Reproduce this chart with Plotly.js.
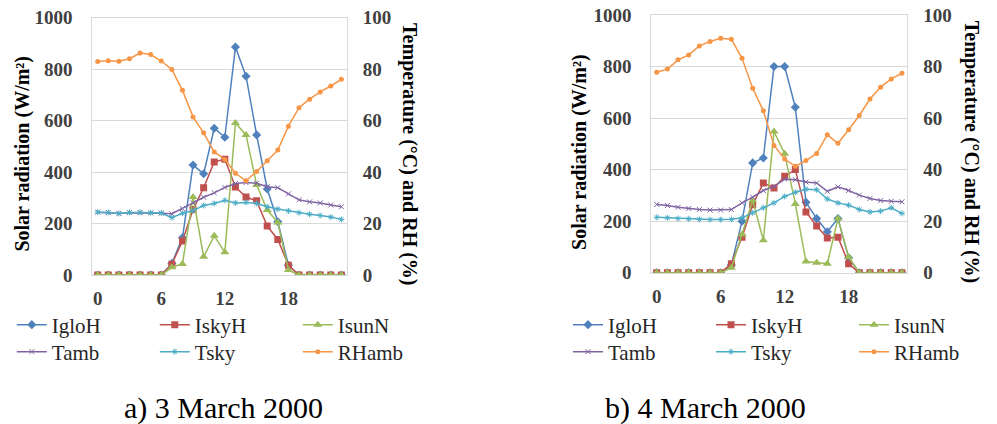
<!DOCTYPE html>
<html><head><meta charset="utf-8">
<script src="https://cdn.plot.ly/plotly-3.0.1.min.js"></script>
<style>html,body{margin:0;padding:0;background:#fff}#chart{width:997px;height:424px}</style>
</head><body><div id="chart"></div>
<script>
// Hour of day (category axis)
const hours = [0,1,2,3,4,5,6,7,8,9,10,11,12,13,14,15,16,17,18,19,20,21,22,23];
const xTickVals = [0,6,12,18];
const xTickText = ['0','6','12','18'];
const seriesNames = ['IgloH','IskyH','IsunN','Tamb','Tsky','RHamb'];

// a) 3 March 2000 — solar radiation (W/m²)
const IgloH_a = [0,0,0,0,0,0,0,45,145,427,393,570,535,885,772,544,334,207,38,0,0,0,0,0];
const IskyH_a = [0,0,0,0,0,0,0,42,132,254,339,439,450,342,303,288,190,138,38,0,0,0,0,0];
const IsunN_a = [0,0,0,0,0,0,0,30,43,303,71,152,88,590,544,350,252,204,19,0,0,0,0,0];
// temperatures (°C) and RH (%)
const Tamb_a  = [24.4,24.2,23.9,24.2,24.2,24.1,24.0,23.8,25.8,28.0,30.2,31.9,34.0,35.5,35.9,35.6,34.3,33.9,31.5,29.2,28.4,28.0,27.2,26.5];
const Tsky_a  = [24.4,24.3,23.9,24.3,24.3,24.2,24.1,22.3,24.0,25.0,27.0,27.8,29.0,28.0,28.2,27.8,26.5,25.6,24.9,24.2,23.6,23.1,22.5,21.6];
const RHamb_a = [82.9,83.2,83.0,84.0,86.2,85.6,83.1,79.8,71.7,61.4,55.2,47.8,44.9,39.5,36.6,40.2,44.4,48.5,57.8,65.0,68.3,71.1,73.4,76.0];

// b) 4 March 2000
const IgloH_b = [0,0,0,0,0,0,0,30,200,426,445,800,800,642,273,210,159,210,58,0,0,0,0,0];
const IskyH_b = [0,0,0,0,0,0,0,35,138,264,348,329,374,400,236,181,135,138,35,0,0,0,0,0];
const IsunN_b = [0,0,0,0,0,0,0,19,148,280,126,548,462,267,43,39,35,210,61,0,0,0,0,0];
const Tamb_b  = [26.5,26.1,25.4,24.9,24.5,24.3,24.3,24.5,27.1,29.3,31.9,33.5,36.3,36.1,35.2,34.8,31.6,33.3,31.9,30.1,28.8,28.0,27.7,27.5];
const Tsky_b  = [21.5,21.3,21.0,20.9,20.7,20.6,20.6,20.7,21.3,23.2,25.2,27.1,29.6,31.2,32.4,32.2,28.6,27.1,26.2,24.5,23.6,23.9,25.2,23.0];
const RHamb_b = [77.8,79.0,82.6,84.5,88.0,89.7,91.0,90.6,83.2,71.6,62.8,49.4,44.1,41.3,43.5,46.3,53.5,50.2,55.5,61.0,67.4,72.0,75.2,77.4];

const W = 997, H = 424;
const px = v => v / W;
const py = v => 1 - v / H;
const SERIF = "'Liberation Serif', 'Times New Roman', Times, 'DejaVu Serif', serif";

const styles = [
  {color:'#4F81BD', symbol:'diamond', size:7},
  {color:'#C0504D', symbol:'square', size:7},
  {color:'#9BBB59', symbol:'triangle-up', size:8},
  {color:'#8064A2', symbol:'x-thin', size:5},
  {color:'#4BACC6', symbol:'asterisk', size:5},
  {color:'#F79646', symbol:'circle', size:5}
];

function makeTraces(data, xa, yl, yr, legTop, legBot) {
  return data.map((ys, i) => {
    const s = styles[i];
    const thin = (s.symbol === 'x-thin' || s.symbol === 'asterisk');
    return {
      type: 'scatter', mode: 'lines+markers',
      x: hours, y: ys, name: seriesNames[i],
      xaxis: xa, yaxis: i < 3 ? yl : yr,
      legend: i < 3 ? legTop : legBot,
      line: {color: s.color, width: 1.5},
      marker: thin
        ? {symbol: s.symbol, size: s.size, color: s.color, line: {color: s.color, width: 1}}
        : {symbol: s.symbol, size: s.size, color: s.color, line: {width: 0}},
      hoverinfo: 'x+y+name'
    };
  });
}

const traces = [
  ...makeTraces([IgloH_a, IskyH_a, IsunN_a, Tamb_a, Tsky_a, RHamb_a], 'x', 'y', 'y2', 'legend', 'legend2'),
  ...makeTraces([IgloH_b, IskyH_b, IsunN_b, Tamb_b, Tsky_b, RHamb_b], 'x2', 'y3', 'y4', 'legend3', 'legend4')
];

const tickFont = {family: SERIF, size: 19, color: '#404040', weight: 'bold'};
function xAxis(domain, anchor) {
  return {
    domain: domain, anchor: anchor, range: [-0.5, 23.5],
    tickmode: 'array', tickvals: xTickVals, ticktext: xTickText,
    showgrid: false, zeroline: false, showline: true, mirror: true,
    linecolor: '#d9d9d9', linewidth: 1, ticks: '', ticklabelstandoff: 6,
    tickfont: tickFont, fixedrange: true
  };
}
function yLeft(domain, anchor) {
  return {
    domain: domain, anchor: anchor, range: [0, 1000], dtick: 200, tick0: 0,
    showgrid: true, gridcolor: '#d9d9d9', gridwidth: 1, zeroline: false,
    showline: true, mirror: true, linecolor: '#d9d9d9', ticks: '',
    ticklabelstandoff: 15, tickfont: tickFont, fixedrange: true
  };
}
function yRight(overlay, anchor) {
  return {
    overlaying: overlay, anchor: anchor, side: 'right', range: [0, 100], dtick: 20, tick0: 0,
    showgrid: false, zeroline: false, showline: false, ticks: '',
    ticklabelstandoff: 15, tickfont: tickFont, fixedrange: true
  };
}
function legendAt(xLeft, yMid) {
  return {
    x: px(xLeft), xanchor: 'left', y: py(yMid), yanchor: 'middle',
    orientation: 'h', entrywidth: 98, entrywidthmode: 'pixels', itemwidth: 30,
    bgcolor: 'rgba(0,0,0,0)', borderwidth: 0,
    font: {family: SERIF, size: 21, color: '#262626'}
  };
}
const titleFont = {family: SERIF, size: 20, color: '#000', weight: 'bold'};
const capFont = {family: SERIF, size: 30, color: '#000'};

const layout = {
  width: W, height: H, margin: {l: 0, r: 0, t: 0, b: 0},
  paper_bgcolor: '#fff', plot_bgcolor: '#fff',
  font: {family: SERIF},
  showlegend: true,
  xaxis: xAxis([px(94), px(352.7)], 'y'),
  yaxis: yLeft([py(275), py(17.5)], 'x'),
  yaxis2: yRight('y', 'x'),
  xaxis2: xAxis([px(662.7), px(923)], 'y3'),
  yaxis3: yLeft([py(272.7), py(15)], 'x2'),
  yaxis4: yRight('y3', 'x2'),
  legend: legendAt(12, 325),
  legend2: legendAt(12, 352),
  legend3: legendAt(578, 325),
  legend4: legendAt(578, 352),
  annotations: [
    {text: 'Solar radiation (W/m²)', xref: 'paper', yref: 'paper', x: px(22), y: py(154), textangle: -90, showarrow: false, xanchor: 'center', yanchor: 'middle', font: titleFont},
    {text: 'Temperature (°C) and RH (%)', xref: 'paper', yref: 'paper', x: px(417), y: py(154), textangle: 90, showarrow: false, xanchor: 'center', yanchor: 'middle', font: titleFont},
    {text: 'Solar radiation (W/m²)', xref: 'paper', yref: 'paper', x: px(590), y: py(152), textangle: -90, showarrow: false, xanchor: 'center', yanchor: 'middle', font: titleFont},
    {text: 'Temperature (°C) and RH (%)', xref: 'paper', yref: 'paper', x: px(988), y: py(152), textangle: 90, showarrow: false, xanchor: 'center', yanchor: 'middle', font: titleFont},
    {text: 'a) 3 March 2000', xref: 'paper', yref: 'paper', x: px(227.5), y: py(408), showarrow: false, xanchor: 'center', yanchor: 'middle', font: capFont},
    {text: 'b) 4 March 2000', xref: 'paper', yref: 'paper', x: px(718), y: py(408), showarrow: false, xanchor: 'center', yanchor: 'middle', font: capFont}
  ]
};

Plotly.newPlot('chart', traces, layout, {staticPlot: true, displayModeBar: false});
</script>
</body></html>
